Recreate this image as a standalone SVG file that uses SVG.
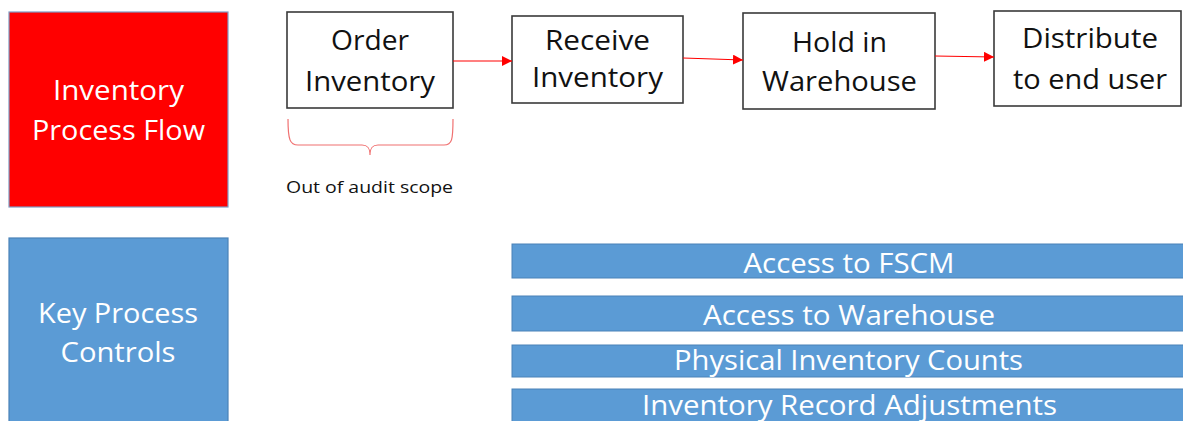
<svg xmlns="http://www.w3.org/2000/svg" width="1183" height="421" viewBox="0 0 1183 421">
<style>
.t{font-family:"Open Sans","Liberation Sans",sans-serif;}
.w{fill:#ffffff;font-size:28px;}
.k{fill:#111111;font-size:28px;}
.s{fill:#111111;font-size:17px;}
.box{fill:#ffffff;stroke:#3a3a3a;stroke-width:1.6;}
.bar{fill:#5b9bd5;stroke:#4a82b8;stroke-width:1;}
.conn{fill:none;stroke:#ff0000;stroke-width:1.2;}
</style>
<defs>
<marker id="ah" viewBox="0 0 10 10" refX="10" refY="5" markerWidth="10" markerHeight="10" markerUnits="userSpaceOnUse" orient="auto">
<path d="M0,0 L10,5 L0,10 Z" fill="#ff0000"/>
</marker>
</defs>
<rect width="1183" height="421" fill="#ffffff"/>

<g id="process-flow-label">
<rect x="9" y="12" width="219" height="195" fill="#ff0000" stroke="#7f9cc4" stroke-width="1.2"/>
<text class="t w" x="118.5" y="100" text-anchor="middle" textLength="131" lengthAdjust="spacingAndGlyphs">Inventory</text>
<text class="t w" x="118.5" y="140" text-anchor="middle" textLength="173" lengthAdjust="spacingAndGlyphs">Process Flow</text>
</g>

<g id="key-controls-label">
<rect x="9" y="238" width="219" height="190" fill="#5b9bd5" stroke="#4a82b8" stroke-width="1.2"/>
<text class="t w" x="118" y="323" text-anchor="middle" textLength="160" lengthAdjust="spacingAndGlyphs">Key Process</text>
<text class="t w" x="118" y="362" text-anchor="middle" textLength="115" lengthAdjust="spacingAndGlyphs">Controls</text>
</g>

<g id="order-inventory">
<rect class="box" x="287" y="12" width="166" height="96"/>
<text class="t k" x="370" y="50" text-anchor="middle" textLength="78" lengthAdjust="spacingAndGlyphs">Order</text>
<text class="t k" x="370" y="91" text-anchor="middle" textLength="130" lengthAdjust="spacingAndGlyphs">Inventory</text>
</g>

<g id="receive-inventory">
<rect class="box" x="512" y="16" width="171" height="87"/>
<text class="t k" x="597.5" y="50" text-anchor="middle" textLength="105" lengthAdjust="spacingAndGlyphs">Receive</text>
<text class="t k" x="597.5" y="87" text-anchor="middle" textLength="131" lengthAdjust="spacingAndGlyphs">Inventory</text>
</g>

<g id="hold-in-warehouse">
<rect class="box" x="743" y="13" width="192" height="96"/>
<text class="t k" x="839.5" y="52" text-anchor="middle" textLength="95" lengthAdjust="spacingAndGlyphs">Hold in</text>
<text class="t k" x="839.5" y="91" text-anchor="middle" textLength="155" lengthAdjust="spacingAndGlyphs">Warehouse</text>
</g>

<g id="distribute">
<rect class="box" x="994" y="11" width="187" height="95"/>
<text class="t k" x="1090" y="48" text-anchor="middle" textLength="136" lengthAdjust="spacingAndGlyphs">Distribute</text>
<text class="t k" x="1090" y="89" text-anchor="middle" textLength="154" lengthAdjust="spacingAndGlyphs">to end user</text>
</g>

<g id="connectors">
<line class="conn" x1="453" y1="61" x2="512" y2="61" marker-end="url(#ah)"/>
<line class="conn" x1="683" y1="58" x2="743" y2="60" marker-end="url(#ah)"/>
<line class="conn" x1="935" y1="56" x2="994" y2="57" marker-end="url(#ah)"/>
</g>

<g id="audit-scope">
<path d="M288,119 C288,140 290,145 298,145 L362,145 C368,145 370,148 370,155 C370,148 372,145 378,145 L444,145 C452,145 453,140 453,119" fill="none" stroke="#f07070" stroke-width="1.2"/>
<text class="t s" x="286" y="193" textLength="167" lengthAdjust="spacingAndGlyphs">Out of audit scope</text>
</g>

<g id="control-fscm">
<rect class="bar" x="512" y="244" width="675" height="34"/>
<text class="t w" x="849" y="273" text-anchor="middle" textLength="211" lengthAdjust="spacingAndGlyphs">Access to FSCM</text>
</g>
<g id="control-warehouse">
<rect class="bar" x="512" y="296" width="675" height="35"/>
<text class="t w" x="849" y="325" text-anchor="middle" textLength="292" lengthAdjust="spacingAndGlyphs">Access to Warehouse</text>
</g>
<g id="control-counts">
<rect class="bar" x="512" y="345" width="675" height="32"/>
<text class="t w" x="848.5" y="370" text-anchor="middle" textLength="349" lengthAdjust="spacingAndGlyphs">Physical Inventory Counts</text>
</g>
<g id="control-adjustments">
<rect class="bar" x="512" y="389" width="675" height="40"/>
<text class="t w" x="849.5" y="415" text-anchor="middle" textLength="415" lengthAdjust="spacingAndGlyphs">Inventory Record Adjustments</text>
</g>
</svg>
